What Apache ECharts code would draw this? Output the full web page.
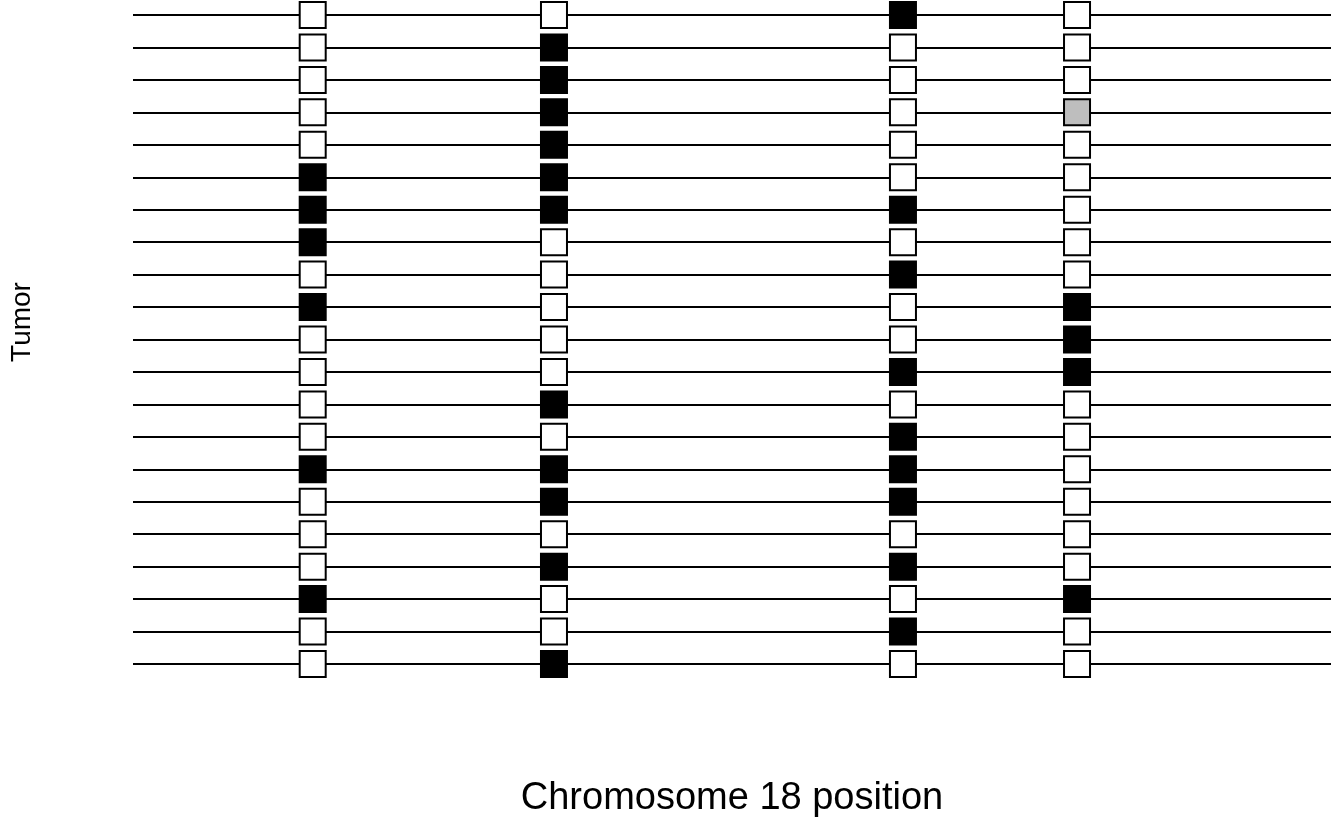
<!DOCTYPE html>
<html>
<head>
<meta charset="utf-8">
<script src="https://cdn.jsdelivr.net/npm/echarts@6/dist/echarts.min.js"></script>
<style>html,body{margin:0;padding:0;background:#fff;}#c{width:1332px;height:829px;}</style>
</head>
<body>
<div id="c"></div>
<script>
// Marker positions along chromosome 18 (relative units, 0-100)
const markerPositions = [15.0, 35.14, 64.27, 78.8];
// Tumor rows (top to bottom)
const tumors = [1,2,3,4,5,6,7,8,9,10,11,12,13,14,15,16,17,18,19,20,21];
// Status per marker column, per tumor row: 0 = open (white), 1 = filled (black), 2 = grey
const marker1 = [0,0,0,0,0,1,1,1,0,1,0,0,0,0,1,0,0,0,1,0,0];
const marker2 = [0,1,1,1,1,1,1,0,0,0,0,0,1,0,1,1,0,1,0,0,1];
const marker3 = [1,0,0,0,0,0,1,0,1,0,0,1,0,1,1,1,0,1,0,1,0];
const marker4 = [0,0,0,2,0,0,0,0,0,1,1,1,0,0,0,0,0,0,1,0,0];
const statusColors = ['#ffffff', '#000000', '#bebebe'];
const xTitle = 'Chromosome 18 position';
const yTitle = 'Tumor';

const columns = [marker1, marker2, marker3, marker4];
const byStatus = [[], [], []];
columns.forEach((col, ci) => {
  col.forEach((s, ri) => {
    byStatus[s].push([markerPositions[ci], tumors[ri]]);
  });
});

const chart = echarts.init(document.getElementById('c'));
const font = 'Liberation Sans, Arial, Helvetica, sans-serif';
chart.setOption({
  animation: false,
  backgroundColor: '#ffffff',
  grid: { left: 133, right: 1, top: 15, bottom: 165, containLabel: false, outerBoundsMode: 'none' },
  xAxis: {
    type: 'value', min: 0, max: 100,
    axisLine: { show: false }, axisTick: { show: false }, axisLabel: { show: false },
    splitLine: { show: false },
    name: xTitle, nameLocation: 'middle', nameGap: 116,
    nameTextStyle: { fontFamily: font, fontSize: 38, color: '#000' }
  },
  yAxis: {
    type: 'value', min: 1, max: 21, interval: 1, inverse: true,
    axisLine: { show: false }, axisTick: { show: false }, axisLabel: { show: false },
    splitLine: { show: true, lineStyle: { color: '#000', width: 2 } }
  },
  graphic: [{
    type: 'text',
    x: 22, y: 322,
    rotation: Math.PI / 2,
    style: { text: yTitle, fontFamily: font, fontSize: 28, fill: '#000', align: 'center', verticalAlign: 'middle' }
  }],
  series: byStatus.map((d, s) => ({
    type: 'scatter',
    symbol: 'rect',
    symbolSize: 26,
    data: d,
    itemStyle: { color: statusColors[s], borderColor: '#000', borderWidth: 2, opacity: 1 },
    emphasis: { disabled: true },
    z: 5
  }))
});
</script>
</body>
</html>
